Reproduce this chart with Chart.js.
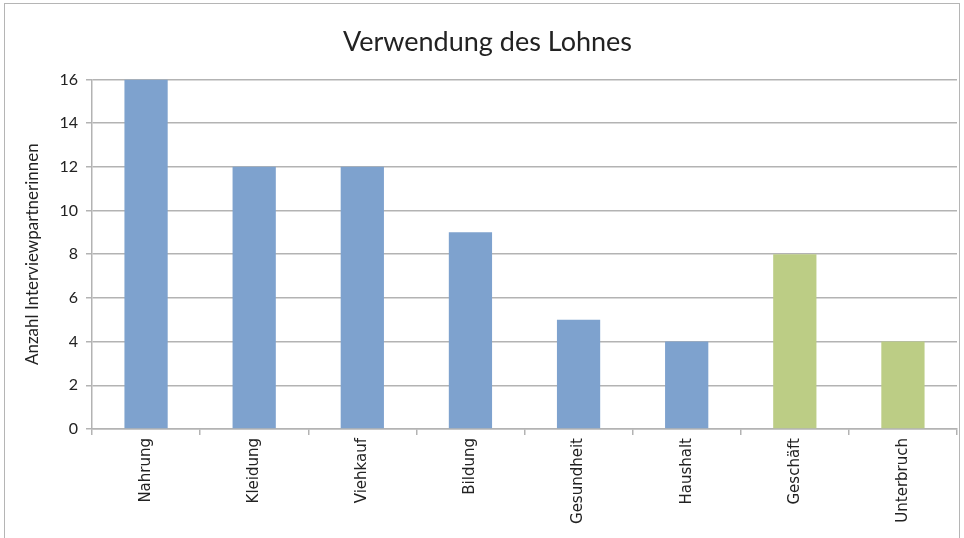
<!DOCTYPE html>
<html>
<head>
<meta charset="utf-8">
<script src="https://cdn.jsdelivr.net/npm/chart.js@4"></script>
<style>
  html, body { margin: 0; padding: 0; background: #fff; }
  #wrap { position: relative; width: 964px; height: 538px; overflow: hidden; }
  #rahmen { position: absolute; left: 4px; top: 3px; width: 956px; height: 560px; border: 1.5px solid #b5b5b5; box-sizing: border-box; }
  canvas { position: absolute; left: 0; top: 0; }
</style>
</head>
<body>
<div id="wrap">
  <div id="rahmen"></div>
  <canvas id="lohnChart" width="964" height="538"></canvas>
</div>
<script>
// Daten
let kategorien = ['Nahrung', 'Kleidung', 'Viehkauf', 'Bildung', 'Gesundheit', 'Haushalt', 'Geschäft', 'Unterbruch'];
let anzahl = [16, 12, 12, 9, 5, 4, 8, 4];
let farben = ['#7ea2ce', '#7ea2ce', '#7ea2ce', '#7ea2ce', '#7ea2ce', '#7ea2ce', '#bccd85', '#bccd85'];

let grau = '#b3b3b3';

let ctx = document.getElementById('lohnChart').getContext('2d');
new Chart(ctx, {
    type: 'bar',
    data: {
        labels: kategorien,
        datasets: [{
            label: 'Anzahl',
            data: anzahl,
            backgroundColor: farben,
            borderWidth: 0,
            barPercentage: 0.4,
            categoryPercentage: 1
        }]
    },
    options: {
        responsive: false,
        animation: false,
        layout: { padding: { left: 18, right: 7, top: 0, bottom: 0 } },
        plugins: {
            legend: { display: false },
            tooltip: { enabled: false },
            title: {
                display: true,
                text: 'Verwendung des Lohnes',
                color: '#222',
                font: { family: 'Lato', size: 27, weight: 'normal', lineHeight: 1.2 },
                padding: { top: 26, bottom: 21 }
            }
        },
        scales: {
            x: {
                afterFit: function(scale) { scale.height = 109; },
                grid: {
                    offset: true,
                    drawOnChartArea: false,
                    tickLength: 6,
                    color: grau,
                    lineWidth: 1.5
                },
                border: { display: true, color: grau, width: 1.5 },
                ticks: {
                    minRotation: 90,
                    maxRotation: 90,
                    padding: 3,
                    color: '#222',
                    font: { family: 'DejaVu Sans', size: 15 }
                }
            },
            y: {
                min: 0,
                max: 16,
                afterFit: function(scale) { scale.width = 74; },
                grid: { color: grau, lineWidth: 1.5, tickLength: 6 },
                border: { display: true, color: grau, width: 1.5 },
                ticks: {
                    stepSize: 2,
                    padding: 8,
                    color: '#222',
                    font: { family: 'Lato', size: 16 }
                },
                title: {
                    display: true,
                    text: 'Anzahl Interviewpartnerinnen',
                    color: '#222',
                    font: { family: 'Lato', size: 17 },
                    padding: { top: 4, bottom: 0 }
                }
            }
        }
    }
});
</script>
</body>
</html>
